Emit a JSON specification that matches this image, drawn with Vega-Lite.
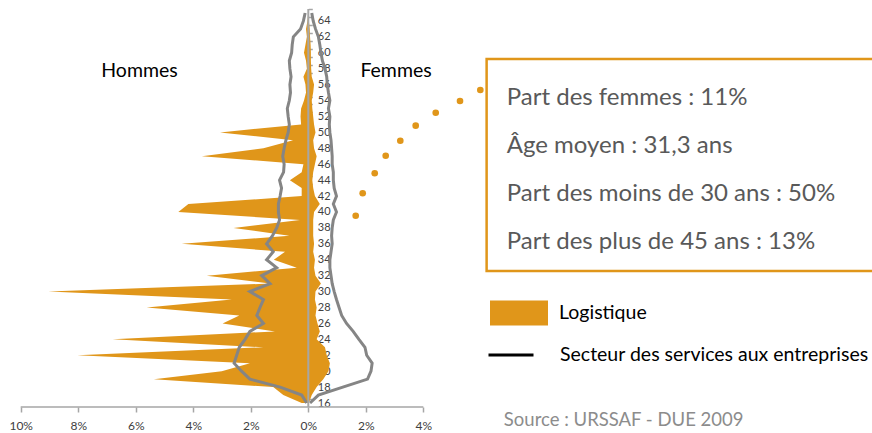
{
  "$schema": "https://vega.github.io/schema/vega-lite/v6.json",
  "width": 872,
  "height": 407,
  "autosize": {"type": "none"},
  "padding": {"left": 0, "top": 0, "right": 0, "bottom": 26},
  "background": "white",
  "config": {
    "view": {"stroke": null},
    "font": "Lato",
    "axis": {
      "grid": false, "domain": false, "labelOverlap": false, "labelFlush": false, "labelBound": false,
      "labelFont": "Lato", "labelColor": "#404040", "tickColor": "#a6a6a6", "tickWidth": 1.5, "title": null
    },
    "axisX": {"tickSize": 5, "labelPadding": 8, "labelFontSize": 12},
    "axisY": {"tickSize": 4, "labelPadding": 5, "labelFontSize": 11, "tickOffset": -4, "labelOffset": 4}
  },
  "datasets": {
    "pyr": [
      {"age": 65, "log_h": 0, "log_f": 0, "svc_h": -0.11, "svc_f": 0.12},
      {"age": 64, "log_h": -0.03, "log_f": 0.02, "svc_h": -0.17, "svc_f": 0.17},
      {"age": 63, "log_h": -0.08, "log_f": 0.05, "svc_h": -0.27, "svc_f": 0.25},
      {"age": 62, "log_h": -0.05, "log_f": 0.06, "svc_h": -0.52, "svc_f": 0.35},
      {"age": 61, "log_h": -0.1, "log_f": 0.08, "svc_h": -0.56, "svc_f": 0.4},
      {"age": 60, "log_h": -0.15, "log_f": 0.09, "svc_h": -0.58, "svc_f": 0.44},
      {"age": 59, "log_h": -0.08, "log_f": 0.09, "svc_h": -0.66, "svc_f": 0.49},
      {"age": 58, "log_h": -0.05, "log_f": 0.1, "svc_h": -0.64, "svc_f": 0.58},
      {"age": 57, "log_h": -0.17, "log_f": 0.12, "svc_h": -0.6, "svc_f": 0.64},
      {"age": 56, "log_h": -0.1, "log_f": 0.2, "svc_h": -0.64, "svc_f": 0.66},
      {"age": 55, "log_h": -0.08, "log_f": 0.17, "svc_h": -0.62, "svc_f": 0.7},
      {"age": 54, "log_h": -0.15, "log_f": 0.12, "svc_h": -0.66, "svc_f": 0.75},
      {"age": 53, "log_h": -0.25, "log_f": 0.14, "svc_h": -0.73, "svc_f": 0.7},
      {"age": 52, "log_h": -0.27, "log_f": 0.17, "svc_h": -0.7, "svc_f": 0.75},
      {"age": 51, "log_h": -0.25, "log_f": 0.2, "svc_h": -0.66, "svc_f": 0.73},
      {"age": 50, "log_h": -3.07, "log_f": 0.25, "svc_h": -0.7, "svc_f": 0.75},
      {"age": 49, "log_h": -0.53, "log_f": 0.17, "svc_h": -0.78, "svc_f": 0.79},
      {"age": 48, "log_h": -1.56, "log_f": 0.2, "svc_h": -0.84, "svc_f": 0.81},
      {"age": 47, "log_h": -3.7, "log_f": 0.29, "svc_h": -0.89, "svc_f": 0.83},
      {"age": 46, "log_h": -0.17, "log_f": 0.23, "svc_h": -0.84, "svc_f": 0.83},
      {"age": 45, "log_h": -0.23, "log_f": 0.17, "svc_h": -0.86, "svc_f": 0.87},
      {"age": 44, "log_h": -0.64, "log_f": 0.14, "svc_h": -1.0, "svc_f": 0.87},
      {"age": 43, "log_h": -0.23, "log_f": 0.17, "svc_h": -0.93, "svc_f": 0.9},
      {"age": 42, "log_h": -0.23, "log_f": 0.23, "svc_h": -0.98, "svc_f": 0.98},
      {"age": 41, "log_h": -4.17, "log_f": 0.4, "svc_h": -1.04, "svc_f": 0.87},
      {"age": 40, "log_h": -4.52, "log_f": 0.2, "svc_h": -1.04, "svc_f": 0.98},
      {"age": 39, "log_h": -0.29, "log_f": 0.17, "svc_h": -1.0, "svc_f": 0.87},
      {"age": 38, "log_h": -2.6, "log_f": 0.17, "svc_h": -1.1, "svc_f": 0.83},
      {"age": 37, "log_h": -0.66, "log_f": 0.17, "svc_h": -1.25, "svc_f": 0.81},
      {"age": 36, "log_h": -4.4, "log_f": 0.2, "svc_h": -1.45, "svc_f": 0.83},
      {"age": 35, "log_h": -0.81, "log_f": 0.17, "svc_h": -1.22, "svc_f": 0.79},
      {"age": 34, "log_h": -1.2, "log_f": 0.23, "svc_h": -1.45, "svc_f": 0.75},
      {"age": 33, "log_h": -0.4, "log_f": 0.2, "svc_h": -1.1, "svc_f": 0.75},
      {"age": 32, "log_h": -3.53, "log_f": 0.25, "svc_h": -1.62, "svc_f": 0.79},
      {"age": 31, "log_h": -1.33, "log_f": 0.44, "svc_h": -1.33, "svc_f": 0.83},
      {"age": 30, "log_h": -9.04, "log_f": 0.25, "svc_h": -2.03, "svc_f": 0.9},
      {"age": 29, "log_h": -2.66, "log_f": 0.23, "svc_h": -1.56, "svc_f": 0.98},
      {"age": 28, "log_h": -5.62, "log_f": 0.29, "svc_h": -1.68, "svc_f": 1.07},
      {"age": 27, "log_h": -2.4, "log_f": 0.25, "svc_h": -1.79, "svc_f": 1.16},
      {"age": 26, "log_h": -2.98, "log_f": 0.32, "svc_h": -1.56, "svc_f": 1.33},
      {"age": 25, "log_h": -1.16, "log_f": 0.4, "svc_h": -2.03, "svc_f": 1.56},
      {"age": 24, "log_h": -6.8, "log_f": 0.29, "svc_h": -2.2, "svc_f": 1.76},
      {"age": 23, "log_h": -1.56, "log_f": 0.58, "svc_h": -2.4, "svc_f": 1.97},
      {"age": 22, "log_h": -8.03, "log_f": 0.64, "svc_h": -2.49, "svc_f": 2.03},
      {"age": 21, "log_h": -2.03, "log_f": 0.75, "svc_h": -2.58, "svc_f": 2.22},
      {"age": 20, "log_h": -3.01, "log_f": 0.7, "svc_h": -2.32, "svc_f": 2.18},
      {"age": 19, "log_h": -5.37, "log_f": 0.52, "svc_h": -2.03, "svc_f": 2.06},
      {"age": 18, "log_h": -1.22, "log_f": 0.29, "svc_h": -0.98, "svc_f": 1.2},
      {"age": 17, "log_h": -0.87, "log_f": 0.12, "svc_h": -0.23, "svc_f": 0.35},
      {"age": 16, "log_h": -0.23, "log_f": 0.02, "svc_h": -0.06, "svc_f": 0.06}
    ],
    "sexes": [
      {"t": "Hommes", "x": -5.87, "y": 57.71},
      {"t": "Femmes", "x": 3.05, "y": 57.71}
    ],
    "box": [{"x": 6.2, "x2": 20.5, "y": 59.22, "y2": 32.58}],
    "boxtext": [
      {"t": "Part des femmes : 11%", "x": 6.9, "y": 53.44},
      {"t": "Âge moyen : 31,3 ans", "x": 6.9, "y": 47.41},
      {"t": "Part des moins de 30 ans : 50%", "x": 6.9, "y": 41.38},
      {"t": "Part des plus de 45 ans : 13%", "x": 6.9, "y": 35.35}
    ],
    "dots": [
      {"x": 1.648, "y": 39.53},
      {"x": 1.891, "y": 42.35},
      {"x": 2.309, "y": 44.86},
      {"x": 2.691, "y": 47.07},
      {"x": 3.199, "y": 48.95},
      {"x": 3.734, "y": 50.84},
      {"x": 4.43, "y": 52.47},
      {"x": 5.275, "y": 53.94},
      {"x": 5.981, "y": 55.32}
    ],
    "source": [{"t": "Source : URSSAF - DUE 2009", "x": 6.8, "y": 13.15}],
    "xaxisline": [{"x": -10, "x2": 4, "y": 15.5}],
    "yaxisline": [{"x": 0, "y": 15.5, "y2": 65.5}]
  },
  "layer": [
    {
      "data": {"name": "pyr"},
      "mark": {"type": "area", "orient": "horizontal", "interpolate": "linear"},
      "encoding": {
        "y": {
          "field": "age", "type": "quantitative",
          "scale": {"domain": [15.5, 66.63], "nice": false, "zero": false},
          "axis": {
            "orient": "right", "offset": -563.7, "title": null, "tickCount": 100,
            "values": [16,17,18,19,20,21,22,23,24,25,26,27,28,29,30,31,32,33,34,35,36,37,38,39,40,41,42,43,44,45,46,47,48,49,50,51,52,53,54,55,56,57,58,59,60,61,62,63,64,65],
            "labelExpr": "datum.value % 2 == 0 ? datum.value : ''",
            "labelOverlap": false
          }
        },
        "x": {
          "field": "log_h", "type": "quantitative",
          "scale": {"domain": [-10.72, 19.6], "nice": false, "zero": false},
          "axis": {
            "title": null, "tickCount": 50,
            "values": [-10, -8, -6, -4, -2, 0, 2, 4],
            "labelExpr": "abs(datum.value) + '%'"
          }
        },
        "x2": {"field": "log_f"},
        "fill": {
          "datum": "Logistique",
          "scale": {"range": ["#E0961A"]},
          "legend": {
            "orient": "none", "legendX": 489, "legendY": 283, "title": null, "padding": 0,
            "symbolType": "M-1,-0.431H1V0.431H-1Z", "symbolSize": 3364, "symbolOpacity": 1,
            "labelFont": "Lato", "labelFontSize": 19.5, "labelColor": "#000000", "labelOffset": 10, "labelLimit": 400
          }
        }
      }
    },
    {
      "data": {"name": "pyr"},
      "transform": [{"fold": ["svc_h", "svc_f"], "as": ["sexe", "val"]}],
      "mark": {"type": "line", "strokeWidth": 0.5, "interpolate": "linear"},
      "encoding": {
        "y": {"field": "age", "type": "quantitative", "scale": {"domain": [15.5, 66.63], "nice": false, "zero": false}},
        "x": {"field": "val", "type": "quantitative", "scale": {"domain": [-10.72, 19.6], "nice": false, "zero": false}},
        "detail": {"field": "sexe"},
        "order": {"field": "age", "type": "quantitative"},
        "stroke": {
          "datum": "Secteur des services aux entreprises",
          "scale": {"range": ["#000000"]},
          "legend": {
            "orient": "none", "legendX": 487, "legendY": 331, "title": null, "padding": 0,
            "symbolType": "stroke", "symbolSize": 2025, "symbolStrokeWidth": 3, "symbolOpacity": 1,
            "labelFont": "Lato", "labelFontSize": 19.5, "labelColor": "#000000", "labelOffset": 25, "labelLimit": 400
          }
        }
      }
    },
    {
      "data": {"name": "pyr"},
      "transform": [{"fold": ["svc_h", "svc_f"], "as": ["sexe", "val"]}],
      "mark": {"type": "line", "strokeWidth": 3, "color": "#858585", "interpolate": "linear"},
      "encoding": {
        "y": {"field": "age", "type": "quantitative", "scale": {"domain": [15.5, 66.63], "nice": false, "zero": false}},
        "x": {"field": "val", "type": "quantitative", "scale": {"domain": [-10.72, 19.6], "nice": false, "zero": false}},
        "detail": {"field": "sexe"},
        "order": {"field": "age", "type": "quantitative"}
      }
    },
    {
      "data": {"name": "yaxisline"},
      "mark": {"type": "rule", "color": "#a6a6a6", "strokeWidth": 2},
      "encoding": {
        "x": {"field": "x", "type": "quantitative", "scale": {"domain": [-10.72, 19.6], "nice": false, "zero": false}},
        "y": {"field": "y", "type": "quantitative", "scale": {"domain": [15.5, 66.63], "nice": false, "zero": false}},
        "y2": {"field": "y2"}
      }
    },
    {
      "data": {"name": "xaxisline"},
      "mark": {"type": "rule", "color": "#a6a6a6", "strokeWidth": 1.5},
      "encoding": {
        "x": {"field": "x", "type": "quantitative", "scale": {"domain": [-10.72, 19.6], "nice": false, "zero": false}},
        "x2": {"field": "x2"},
        "y": {"field": "y", "type": "quantitative", "scale": {"domain": [15.5, 66.63], "nice": false, "zero": false}}
      }
    },
    {
      "data": {"name": "sexes"},
      "mark": {"type": "text", "font": "Lato", "fontSize": 19.5, "color": "#000000", "align": "center", "baseline": "middle"},
      "encoding": {
        "x": {"field": "x", "type": "quantitative", "scale": {"domain": [-10.72, 19.6], "nice": false, "zero": false}},
        "y": {"field": "y", "type": "quantitative", "scale": {"domain": [15.5, 66.63], "nice": false, "zero": false}},
        "text": {"field": "t"}
      }
    },
    {
      "data": {"name": "box"},
      "mark": {"type": "rect", "filled": false, "stroke": "#E0961A", "strokeWidth": 2.5},
      "encoding": {
        "x": {"field": "x", "type": "quantitative", "scale": {"domain": [-10.72, 19.6], "nice": false, "zero": false}},
        "x2": {"field": "x2"},
        "y": {"field": "y", "type": "quantitative", "scale": {"domain": [15.5, 66.63], "nice": false, "zero": false}},
        "y2": {"field": "y2"}
      }
    },
    {
      "data": {"name": "boxtext"},
      "mark": {"type": "text", "font": "Lato", "fontSize": 24, "color": "#595959", "align": "left", "baseline": "alphabetic"},
      "encoding": {
        "x": {"field": "x", "type": "quantitative", "scale": {"domain": [-10.72, 19.6], "nice": false, "zero": false}},
        "y": {"field": "y", "type": "quantitative", "scale": {"domain": [15.5, 66.63], "nice": false, "zero": false}},
        "text": {"field": "t"}
      }
    },
    {
      "data": {"name": "dots"},
      "mark": {"type": "circle", "size": 44, "color": "#E0961A", "opacity": 1},
      "encoding": {
        "x": {"field": "x", "type": "quantitative", "scale": {"domain": [-10.72, 19.6], "nice": false, "zero": false}},
        "y": {"field": "y", "type": "quantitative", "scale": {"domain": [15.5, 66.63], "nice": false, "zero": false}}
      }
    },
    {
      "data": {"name": "source"},
      "mark": {"type": "text", "font": "Lato", "fontSize": 18.5, "color": "#8c8c8c", "align": "left", "baseline": "alphabetic"},
      "encoding": {
        "x": {"field": "x", "type": "quantitative", "scale": {"domain": [-10.72, 19.6], "nice": false, "zero": false}},
        "y": {"field": "y", "type": "quantitative", "scale": {"domain": [15.5, 66.63], "nice": false, "zero": false}},
        "text": {"field": "t"}
      }
    }
  ]
}
